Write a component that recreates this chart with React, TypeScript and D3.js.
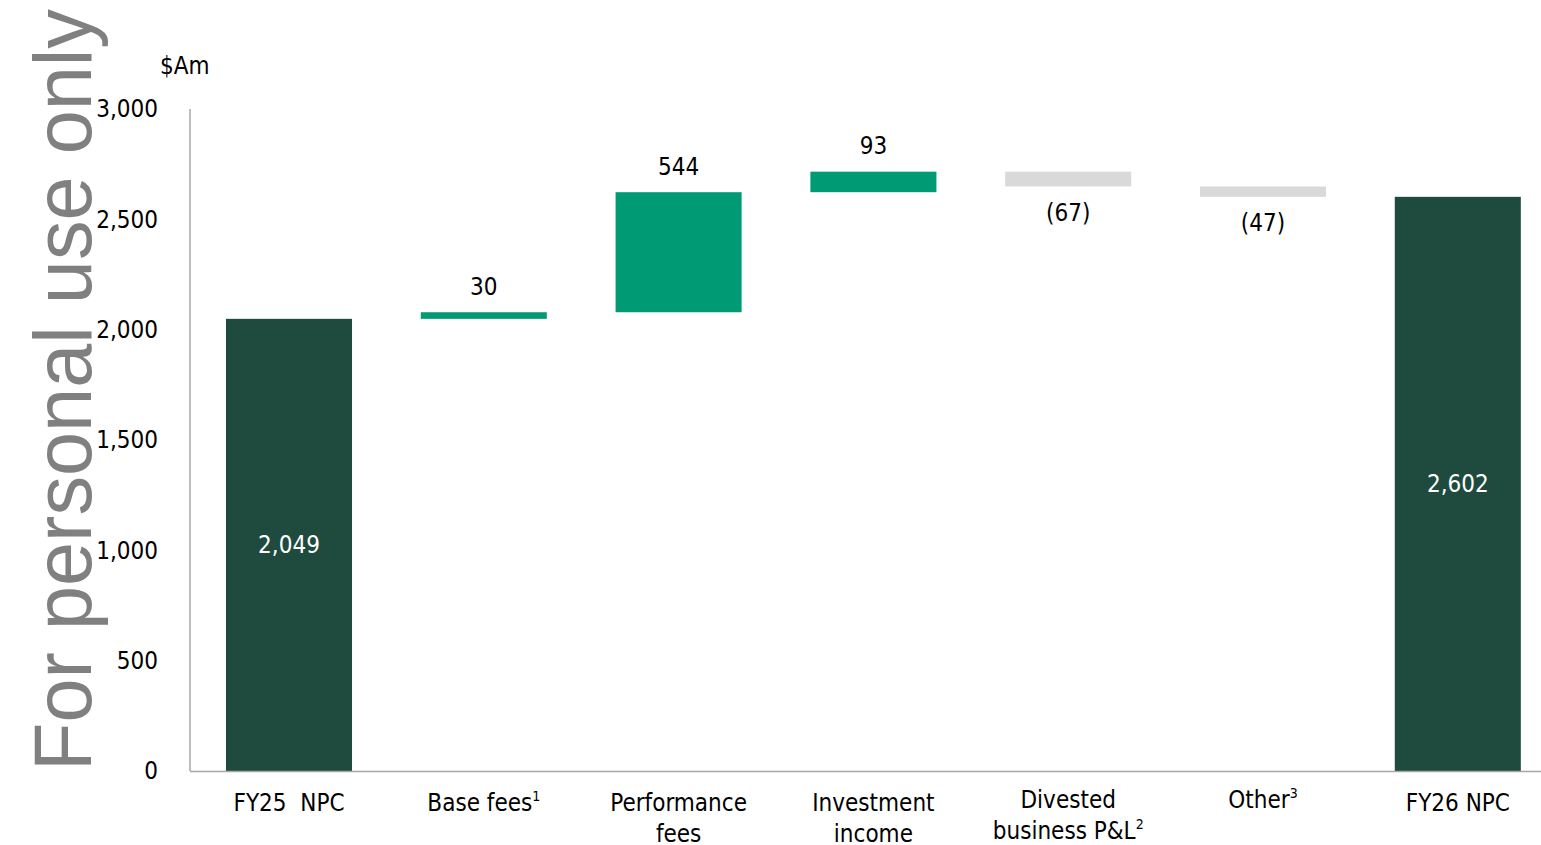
import React from "react";
import * as d3 from "d3";

const categories = ["FY25 NPC", "Base fees", "Performance fees", "Investment income", "Divested business P&L", "Other", "FY26 NPC"];
const labelLines: string[][] = [["FY25\u00a0\u00a0NPC"], ["Base fees"], ["Performance", "fees"], ["Investment", "income"], ["Divested", "business P&L"], ["Other"], ["FY26 NPC"]];
const superscripts = ["", "1", "", "", "2", "3", ""];
const kinds = ["total", "delta", "delta", "delta", "delta", "delta", "total"];
const values = [2049, 30, 544, 93, -67, -47, 2602];
const valueLabels = ["2,049", "30", "544", "93", "(67)", "(47)", "2,602"];
const yTicks = [0, 500, 1000, 1500, 2000, 2500, 3000];

const W = 1541, H = 845;
const FONT = "'DejaVu Sans Condensed', 'Liberation Sans Narrow', 'Noto Sans', sans-serif";
const FS = 24;
const DARK = "#1e4b3d", TEAL = "#009a74", GREY = "#d9d9d9";

export default function App() {
  const x = d3.scaleBand<string>().domain(categories).range([191.6, 1555.2]).paddingInner(0.353).paddingOuter(0.1765);
  const y = d3.scaleLinear().domain([0, 3000]).range([771, 109]);
  const fmt = d3.format(",");

  let running = 0;
  const bars = values.map((v, i) => {
    let y0: number, y1: number;
    if (kinds[i] === "total") { y0 = 0; y1 = v; running = v; }
    else { y0 = running; y1 = running + v; running = y1; }
    return { cat: categories[i], lo: Math.min(y0, y1), hi: Math.max(y0, y1), v, kind: kinds[i] };
  });

  return (
    <div style={{ position: "absolute", left: 0, top: 0 }}>
      <svg width={W} height={H} style={{ display: "block", background: "#fff" }}>
        {/* watermark */}
        <text transform={`translate(91,771) rotate(-90)`} fontFamily="'Liberation Sans', Arial, sans-serif" fontSize={81} fill="#808080" textLength={762} lengthAdjust="spacingAndGlyphs">For personal use only</text>
        {/* unit */}
        <text x={160} y={74} fontFamily={FONT} fontSize={FS} fill="#000">$Am</text>
        {/* y ticks */}
        {yTicks.map(t => (
          <text key={t} x={158} y={y(t)} dy="0.35em" textAnchor="end" fontFamily={FONT} fontSize={FS} fill="#000">{fmt(t)}</text>
        ))}
        {/* bars */}
        {bars.map((b, i) => {
          const fill = b.kind === "total" ? DARK : b.v >= 0 ? TEAL : GREY;
          const bx = x(b.cat)!;
          const bw = x.bandwidth();
          const top = y(b.hi), bot = y(b.lo);
          const cx = bx + bw / 2;
          let label;
          if (b.kind === "total") {
            label = <text x={cx} y={(top + bot) / 2} dy="0.35em" textAnchor="middle" fontFamily={FONT} fontSize={FS} fill="#fff">{valueLabels[i]}</text>;
          } else if (b.v >= 0) {
            label = <text x={cx} y={top - 26} dy="0.35em" textAnchor="middle" fontFamily={FONT} fontSize={FS} fill="#000">{valueLabels[i]}</text>;
          } else {
            label = <text x={cx} y={bot + 26} dy="0.35em" textAnchor="middle" fontFamily={FONT} fontSize={FS} fill="#000">{valueLabels[i]}</text>;
          }
          return (
            <g key={b.cat}>
              <rect x={bx} y={top} width={bw} height={Math.max(bot - top, 1)} fill={fill} />
              {label}
            </g>
          );
        })}
        {/* axes */}
        <line x1={190} x2={190} y1={109} y2={771} stroke="#a6a6a6" strokeWidth={1.5} />
        <line x1={190} x2={1541} y1={771.5} y2={771.5} stroke="#a6a6a6" strokeWidth={1.5} />
        {/* category labels */}
        {categories.map((c, i) => {
          const cx = x(c)! + x.bandwidth() / 2;
          const lines = labelLines[i];
          const baseY = (i === 4 || i === 5) ? 800 : 803;
          return (
            <text key={c} textAnchor="middle" fontFamily={FONT} fontSize={FS} fill="#000">
              {lines.map((ln, j) => (
                <tspan key={j} x={cx} y={baseY + j * 31} dy="0.35em">
                  {ln}
                  {j === lines.length - 1 && superscripts[i] ? <tspan fontSize={14} dy="-0.75em">{superscripts[i]}</tspan> : null}
                </tspan>
              ))}
            </text>
          );
        })}
      </svg>
    </div>
  );
}
